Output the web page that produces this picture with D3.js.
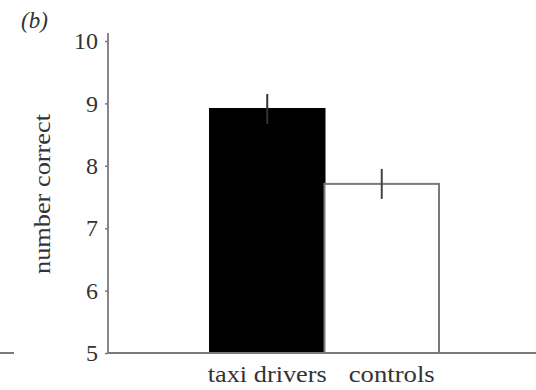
<!DOCTYPE html>
<html>
<head>
<meta charset="utf-8">
<script src="https://cdn.jsdelivr.net/npm/d3@7"></script>
<style>
  html, body { margin: 0; padding: 0; background: #fff; }
  svg { display: block; }
  svg text { font-family: 'Liberation Serif', Tinos, 'Times New Roman', Times, serif; fill: #333; }
</style>
</head>
<body>
<svg id="chart" width="536" height="390"></svg>
<script>
const categories = ['taxi drivers', 'controls'];
const means = [8.91, 7.71];
const errors = [0.24, 0.24];
const fills = ['#000', '#fff'];
const yTicks = [5, 6, 7, 8, 9, 10];

const serif = "'Liberation Serif', Tinos, 'Times New Roman', Times, serif";
const svg = d3.select('#chart');
const axisColor = '#7a7a7a';

const y = d3.scaleLinear().domain([5, 10]).range([353, 41]);
const x = d3.scaleBand().domain(categories).range([210, 439]).paddingInner(0);

// panel label
svg.append('text')
  .attr('x', 21).attr('y', 28)
  .attr('font-family', serif)
  .attr('font-size', 23)
  .attr('font-style', 'italic')
  .text('(b)');

// y axis
const yAxis = svg.append('g')
  .attr('transform', 'translate(108,0)')
  .attr('font-family', serif)
  .call(d3.axisLeft(y).tickValues(yTicks).tickFormat(d3.format('d')).tickSize(3).tickPadding(7));
yAxis.select('.domain').remove();
yAxis.selectAll('.tick line').attr('stroke', axisColor).attr('stroke-width', 1.5);
yAxis.selectAll('.tick text')
  .attr('font-size', 24)
  .attr('fill', '#333');

svg.append('line')
  .attr('x1', 108).attr('x2', 108)
  .attr('y1', y(10) - 8).attr('y2', y(5))
  .attr('stroke', axisColor).attr('stroke-width', 1.8);

// bars
svg.append('g').selectAll('rect')
  .data(categories)
  .join('rect')
  .attr('x', (d) => x(d))
  .attr('y', (d, i) => y(means[i]))
  .attr('width', x.bandwidth())
  .attr('height', (d, i) => y(5) - y(means[i]))
  .attr('fill', (d, i) => fills[i])
  .attr('stroke', (d, i) => (i === 0 ? '#000' : axisColor))
  .attr('stroke-width', 2);

// error bars
svg.append('g').selectAll('line')
  .data(categories)
  .join('line')
  .attr('x1', (d) => x(d) + x.bandwidth() / 2)
  .attr('x2', (d) => x(d) + x.bandwidth() / 2)
  .attr('y1', (d, i) => y(means[i] + errors[i]))
  .attr('y2', (d, i) => y(means[i] - errors[i]))
  .attr('stroke', (d, i) => (i === 0 ? '#333' : '#444'))
  .attr('stroke-width', 2);

// x axis baseline
svg.append('line')
  .attr('x1', 108).attr('x2', 536)
  .attr('y1', y(5)).attr('y2', y(5))
  .attr('stroke', axisColor).attr('stroke-width', 2);

// fragment of neighbouring panel axis
svg.append('line')
  .attr('x1', 0).attr('x2', 14)
  .attr('y1', y(5)).attr('y2', y(5))
  .attr('stroke', axisColor).attr('stroke-width', 2);

// category labels
const labelShift = [0, 10];
const labelWidth = [119, 86];
svg.append('g').selectAll('text')
  .data(categories)
  .join('text')
  .attr('x', (d, i) => x(d) + x.bandwidth() / 2 + labelShift[i])
  .attr('y', 382)
  .attr('text-anchor', 'middle')
  .attr('font-family', serif)
  .attr('font-size', 24)
  .attr('textLength', (d, i) => labelWidth[i])
  .attr('lengthAdjust', 'spacingAndGlyphs')
  .text((d) => d);

// y axis title
svg.append('text')
  .attr('transform', 'translate(50,194) rotate(-90)')
  .attr('text-anchor', 'middle')
  .attr('font-family', serif)
  .attr('font-size', 24)
  .attr('textLength', 160)
  .attr('lengthAdjust', 'spacingAndGlyphs')
  .text('number correct');
</script>
</body>
</html>
